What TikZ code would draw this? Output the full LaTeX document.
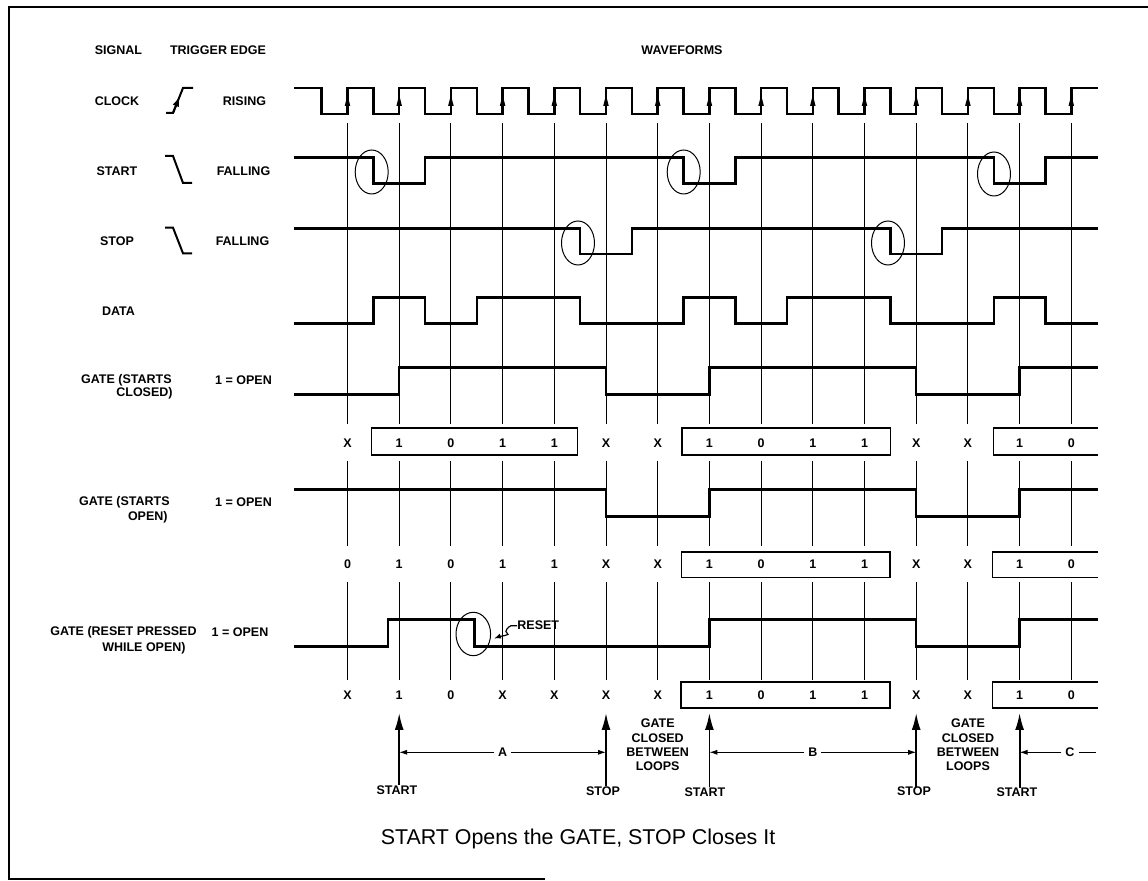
\documentclass[tikz,border=0pt]{standalone}
\usepackage{fontspec}
\setmainfont{Liberation Sans}
\usetikzlibrary{arrows.meta}
\begin{document}
\begin{tikzpicture}[x=0.5pt,y=-0.5pt,
  wave/.style={line width=1.25pt, line join=miter},
  gridl/.style={line width=0.5pt},
  boxl/.style={line width=0.6pt},
  ring/.style={line width=0.5pt},
  lbl/.style={font=\bfseries\fontsize{6.25}{7.2}\selectfont, inner sep=0pt},
  dimlbl/.style={lbl, inner sep=1.8pt},
  bigarrow/.style={line width=0.9pt, -{Latex[length=8.5pt,width=4.5pt]}},
  dimarrow/.style={line width=0.5pt, -{Latex[length=4pt,width=2.6pt]}},
  edgesym/.style={line width=1pt},
]
\useasboundingbox (0,0) rectangle (1148,881);
% frame
\draw[line width=1pt] (1148,7) -- (9,7) -- (9,879) -- (545,879);

% grid lines at rising clock edges
\foreach \i in {0,...,14}{
  \pgfmathsetmacro\gx{347.5+51.7*\i}
  \draw[gridl] (\gx,123) -- (\gx,424) (\gx,461) -- (\gx,546) (\gx,582) -- (\gx,680);
}

% headers
\node[lbl] (hsig) at (118.5,50) {SIGNAL};
\node[lbl] (htrig) at (218,50) {TRIGGER EDGE};
\node[lbl] (hwave) at (682,50) {WAVEFORMS};

% left labels
\node[lbl] (lclk) at (117,101) {CLOCK};
\node[lbl] (eclk) at (244.5,101) {RISING};
\node[lbl] (lstart) at (117,171) {START};
\node[lbl] (estart) at (243.5,171) {FALLING};
\node[lbl] (lstop) at (117,241) {STOP};
\node[lbl] (estop) at (242.5,241) {FALLING};
\node[lbl] (ldata) at (118.5,311) {DATA};
\node[lbl,anchor=east] (lg1a) at (172,380) {GATE (STARTS};
\node[lbl,anchor=east] (lg1b) at (173,393) {CLOSED)};
\node[lbl] (eg1) at (243.5,380) {1 = OPEN};
\node[lbl,anchor=east] (lg2a) at (170,502.7) {GATE (STARTS};
\node[lbl,anchor=east] (lg2b) at (168,517) {OPEN)};
\node[lbl] (eg2) at (243.5,502.7) {1 = OPEN};
\node[lbl,anchor=east] (lg3a) at (197,632.7) {GATE (RESET PRESSED};
\node[lbl,anchor=east] (lg3b) at (186,648) {WHILE OPEN)};
\node[lbl] (eg3) at (240,632.7) {1 = OPEN};

% trigger edge symbols
\draw[edgesym] (166,113) -- (173,113) -- (183,88) -- (193,88);
\draw[edgesym, -{Latex[length=5pt,width=3.5pt]}] (173,113) -- (179.6,96.5);
\draw[edgesym] (165,156) -- (173,156) -- (183,183) -- (192,183);
\draw[edgesym] (165,227.7) -- (173,227.7) -- (183,253.3) -- (192,253.3);

% CLOCK
\draw[wave] (294,88) -- (321.65,88) -- (321.65,114)
  \foreach \i in {0,...,13}{ -- ({347.5+51.7*\i},114) -- ({347.5+51.7*\i},88) -- ({373.35+51.7*\i},88) -- ({373.35+51.7*\i},114) }
  -- (1071.3,114) -- (1071.3,88) -- (1098,88);
\foreach \i in {0,...,14}{
  \pgfmathsetmacro\gx{347.5+51.7*\i}
  \fill (\gx-2.8,106) -- (\gx+2.8,106) -- (\gx,95) -- cycle;
}

% START
\draw[wave] (294,157.7) -- (373.35,157.7) -- (373.35,183.3) -- (425.05,183.3) -- (425.05,157.7)
  -- (683.55,157.7) -- (683.55,183.3) -- (735.25,183.3) -- (735.25,157.7)
  -- (993.75,157.7) -- (993.75,183.3) -- (1045.45,183.3) -- (1045.45,157.7) -- (1098,157.7);
\draw[ring] (371.7,172) ellipse [x radius=8.25pt, y radius=11pt];
\draw[ring] (683.7,172) ellipse [x radius=8.25pt, y radius=11pt];
\draw[ring] (994,174) ellipse [x radius=8.25pt, y radius=11pt];

% STOP
\draw[wave] (294,228.3) -- (580.15,228.3) -- (580.15,254) -- (631.85,254) -- (631.85,228.3)
  -- (890.35,228.3) -- (890.35,254) -- (942.05,254) -- (942.05,228.3) -- (1098,228.3);
\draw[ring] (578,243) ellipse [x radius=8.25pt, y radius=11pt];
\draw[ring] (888,243) ellipse [x radius=8.25pt, y radius=11pt];

% DATA
\draw[wave] (294,323.3) -- (373.35,323.3) -- (373.35,297.7) -- (425.05,297.7) -- (425.05,323.3)
  -- (476.75,323.3) -- (476.75,297.7) -- (580.15,297.7) -- (580.15,323.3)
  -- (683.55,323.3) -- (683.55,297.7) -- (735.25,297.7) -- (735.25,323.3)
  -- (786.95,323.3) -- (786.95,297.7) -- (890.35,297.7) -- (890.35,323.3)
  -- (993.75,323.3) -- (993.75,297.7) -- (1045.45,297.7) -- (1045.45,323.3) -- (1098,323.3);

% GATE (starts closed)
\draw[wave] (294,394.3) -- (399.2,394.3) -- (399.2,367.7) -- (606,367.7) -- (606,394.3)
  -- (709.4,394.3) -- (709.4,367.7) -- (916.2,367.7) -- (916.2,394.3)
  -- (1019.6,394.3) -- (1019.6,367.7) -- (1098,367.7);

% GATE (starts open)
\draw[wave] (294,489.3) -- (606,489.3) -- (606,516.7) -- (709.4,516.7) -- (709.4,489.3)
  -- (916.2,489.3) -- (916.2,516.7) -- (1019.6,516.7) -- (1019.6,489.3) -- (1098,489.3);

% GATE (reset pressed while open)
\draw[wave] (294,646.7) -- (388,646.7) -- (388,619.3) -- (474.5,619.3) -- (474.5,646.7)
  -- (709.4,646.7) -- (709.4,619.3) -- (916.2,619.3) -- (916.2,646.7)
  -- (1019.6,646.7) -- (1019.6,619.3) -- (1098,619.3);
\draw[ring] (473.3,634) ellipse [x radius=8.65pt, y radius=10.85pt];
\node[lbl,anchor=west] (reset) at (517,625.7) {RESET};
\draw[line width=0.6pt, -{Latex[length=3.5pt,width=2.6pt]}] (reset.west) -- ++(-6,0)
  to[out=200,in=160] (507,633) to[out=-20,in=20] (494,638.5);

% value rows
\foreach \v [count=\i from 0] in {X,1,0,1,1,X,X,1,0,1,1,X,X,1,0}
  \node[lbl] (ra\i) at ({347.5+51.7*\i},443) {\v};
\foreach \v [count=\i from 0] in {0,1,0,1,1,X,X,1,0,1,1,X,X,1,0}
  \node[lbl] (rb\i) at ({347.5+51.7*\i},564.5) {\v};
\foreach \v [count=\i from 0] in {X,1,0,X,X,X,X,1,0,1,1,X,X,1,0}
  \node[lbl] (rc\i) at ({347.5+51.7*\i},695) {\v};

% boxes
\draw[boxl] (371.7,428) rectangle (577.7,455);
\draw[boxl] (682,428) rectangle (890.5,455);
\draw[boxl] (1098,428) -- (993.3,428) -- (993.3,455) -- (1098,455);
\draw[boxl] (681.7,552) rectangle (890,577.5);
\draw[boxl] (1098,552) -- (992.7,552) -- (992.7,577.5) -- (1098,577.5);
\draw[boxl] (681,682) rectangle (890,708);
\draw[boxl] (1098,682) -- (992.7,682) -- (992.7,708) -- (1098,708);

% bottom START/STOP arrows
\coordinate (p1) at (399.2,713);
\coordinate (p5) at (606,713);
\coordinate (p7) at (709.4,713);
\coordinate (p11) at (916.2,713);
\coordinate (p13) at (1019.6,713);
\node[lbl] (sA) at (397,790) {START};
\node[lbl] (sB) at (603,791) {STOP};
\node[lbl] (sC) at (705,792) {START};
\node[lbl] (sD) at (914,791.5) {STOP};
\node[lbl] (sE) at (1017,792.5) {START};
\draw[bigarrow] (p1 |- sA.north) -- (p1);
\draw[bigarrow] (p5 |- sB.north) -- (p5);
\draw[bigarrow] (p7 |- sC.north) -- (p7);
\draw[bigarrow] (p11 |- sD.north) -- (p11);
\draw[bigarrow] (p13 |- sE.north) -- (p13);

% intervals
\node[dimlbl] (dA) at (502.6,752.3) {A};
\draw[dimarrow] (dA.west) -- (p1 |- dA);
\draw[dimarrow] (dA.east) -- (p5 |- dA);
\node[dimlbl] (dB) at (812.8,752.3) {B};
\draw[dimarrow] (dB.west) -- (p7 |- dB);
\draw[dimarrow] (dB.east) -- (p11 |- dB);
\node[dimlbl] (dC) at (1070,752.3) {C};
\coordinate (cEnd) at (1096,752.3);
\draw[dimarrow] (dC.west) -- (p13 |- dC);
\draw[line width=0.5pt] (dC.east) -- (cEnd);

\node[lbl, align=center] (gc1) at (657.7,745) {GATE\\CLOSED\\BETWEEN\\LOOPS};
\node[lbl, align=center] (gc2) at (968,745) {GATE\\CLOSED\\BETWEEN\\LOOPS};

% caption
\node[font=\fontsize{10.7}{13}\selectfont, inner sep=0pt] (cap) at (578,839) {START Opens the GATE, STOP Closes It};
\end{tikzpicture}
\end{document}
